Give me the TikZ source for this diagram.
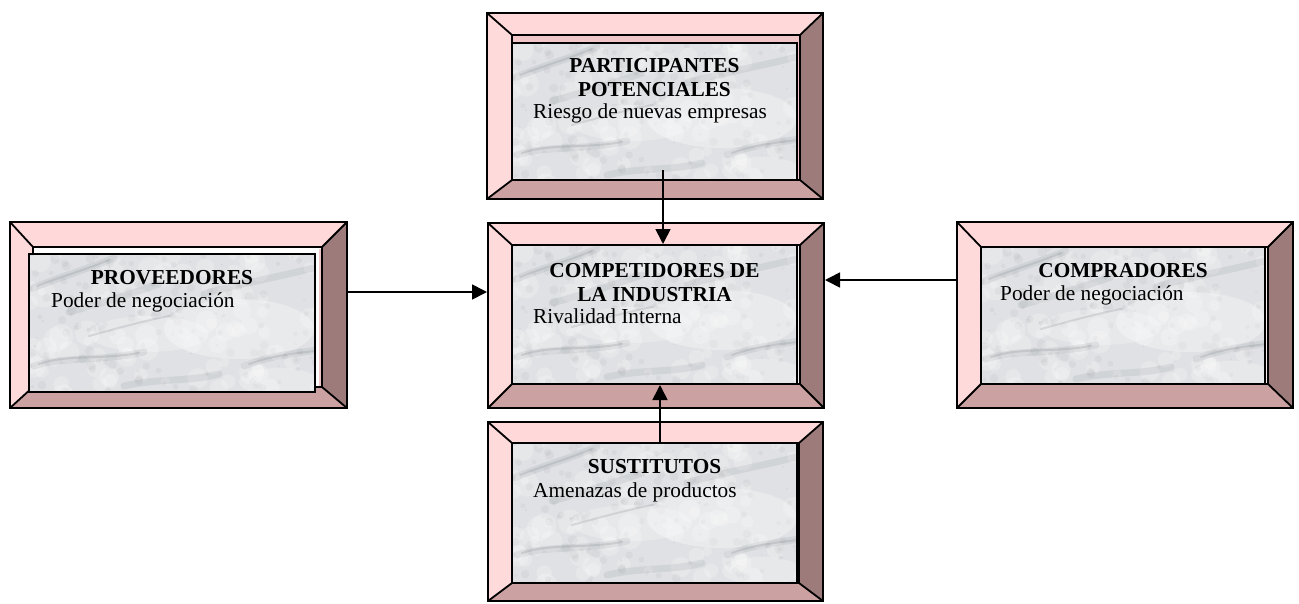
\documentclass[tikz,border=0pt]{standalone}
\usepackage{fontspec}
\setmainfont{Liberation Serif}
\usetikzlibrary{arrows.meta,fit}

\definecolor{bevtop}{HTML}{FFD9D9}
\definecolor{bevleft}{HTML}{FFDADA}
\definecolor{bevbot}{HTML}{CCA1A1}
\definecolor{bevright}{HTML}{9E7B7B}
\definecolor{marblebase}{HTML}{DFE1E4}
\definecolor{veincol}{HTML}{5F646B}
\definecolor{gapwhite}{HTML}{F7EFEF}
\definecolor{gappink}{HTML}{F0C6C8}

\tikzset{
  x=1pt, y=-1pt,
  edge/.style={line width=1.8pt, line join=miter},
  frame/.style={draw=black, line width=2pt, inner sep=0pt},
  vein/.style={veincol, line width=7pt, line cap=round, opacity=0.10},
  thinvein/.style={veincol, line width=2pt, line cap=round, opacity=0.16},
  marble/.style={draw=black, line width=2pt, inner sep=0pt},
  title/.style={font=\fontsize{21.3}{23.5}\selectfont\bfseries, anchor=base, inner sep=0pt},
  sub/.style={font=\fontsize{21.3}{23.5}\selectfont, anchor=base west, inner sep=0pt},
  arr/.style={line width=1.7pt, -{Triangle[length=15pt,width=15pt]}}
}

% mottled stone, drawn in px offsets from the top left corner
\newcommand\marbletexture{%
  \fill[marblebase] (-5,-5) rectangle (300,150);
  \pgfmathsetseed{11}%
  \foreach \k in {1,...,90}{%
    \fill[white, opacity=0.22] ({290*rnd},{145*rnd}) circle ({4+9*rnd});}
  \foreach \k in {1,...,160}{%
    \fill[veincol, opacity=0.06] ({290*rnd},{145*rnd}) circle ({1+4*rnd});}
  \fill[white, opacity=0.30] (210,75) ellipse (75 and 30);
  \fill[white, opacity=0.25] (120,80) ellipse (60 and 18);
  \fill[white, opacity=0.25] (250,128) ellipse (40 and 14);
  \draw[vein] (2,35) .. controls (25,25) and (50,18) .. (85,4);
  \draw[vein] (40,58) .. controls (70,50) and (95,42) .. (130,30);
  \draw[vein] (175,40) .. controls (200,32) and (235,26) .. (285,14);
  \draw[vein] (5,112) .. controls (35,102) and (70,108) .. (115,98);
  \draw[vein] (215,112) .. controls (240,102) and (262,100) .. (288,96);
  \draw[vein] (95,132) .. controls (130,124) and (160,128) .. (190,120);
  \draw[thinvein] (10,110) .. controls (40,100) and (70,106) .. (110,99);
  \draw[thinvein] (220,110) .. controls (242,102) and (262,100) .. (285,97);
  \draw[thinvein] (8,32) .. controls (28,24) and (50,18) .. (80,6);
  \draw[thinvein] (60,82) .. controls (90,74) and (110,68) .. (140,62);
}

% stone panel clipped to a rectangle, then outlined as a named node
\newcommand\marblepanel[5]{%
  \begin{scope}
    \clip (#2,#3) rectangle (#4,#5);
    \begin{scope}[shift={(#2,#3)}]\marbletexture\end{scope}
  \end{scope}
  \node[marble, fit={(#2,#3) (#4,#5)}] (#1) {};
}

% bevelled picture frame: name, outer x1 y1 x2 y2, inner x1 y1 x2 y2
\newcommand\bevelframe[9]{%
  \fill[bevtop] (#2,#3) -- (#4,#3) -- (#8,#7) -- (#6,#7) -- cycle;
  \fill[bevleft] (#2,#3) -- (#6,#7) -- (#6,#9) -- (#2,#5) -- cycle;
  \fill[bevbot] (#2,#5) -- (#6,#9) -- (#8,#9) -- (#4,#5) -- cycle;
  \fill[bevright] (#4,#3) -- (#4,#5) -- (#8,#9) -- (#8,#7) -- cycle;
  \draw[edge] (#2,#3) -- (#6,#7) (#4,#3) -- (#8,#7)
              (#2,#5) -- (#6,#9) (#4,#5) -- (#8,#9);
  \node[frame, fit={(#2,#3) (#4,#5)}] (#1) {};
  \node[frame, fill=\gapcolor, fit={(#6,#7) (#8,#9)}] (#1in) {};
}

\begin{document}
\begin{tikzpicture}
\useasboundingbox (0,0) rectangle (1299,603);

% participantes potenciales (top)
\def\gapcolor{gappink}
\bevelframe{P}{487}{13}{823}{199}{512}{35}{800}{180}
\marblepanel{Pm}{512}{43}{797}{180}
\node[title] (Pt1) at (654.5,72) {PARTICIPANTES};
\node[title] (Pt2) at (654.5,96) {POTENCIALES};
\node[sub] (Ps) at (533,118) {Riesgo de nuevas empresas};

% competidores de la industria (centre)
\def\gapcolor{gapwhite}
\bevelframe{C}{488}{223}{824}{408}{512}{245}{800}{384}
\marblepanel{Cm}{512}{245}{797}{384}
\node[title] (Ct1) at (654.5,277) {COMPETIDORES DE};
\node[title] (Ct2) at (654.5,301) {LA INDUSTRIA};
\node[sub] (Cs) at (533,323) {Rivalidad Interna};

% sustitutos (bottom)
\bevelframe{S}{488}{422}{823}{601}{512}{443}{799}{583}
\marblepanel{Sm}{512}{443}{797}{583}
\node[title] (St) at (654.5,473) {SUSTITUTOS};
\node[sub] (Ss) at (533,497) {Amenazas de productos};

% proveedores (left), picture slightly offset inside its frame
\def\gapcolor{white}
\bevelframe{L}{10}{222}{347}{408}{33}{247}{322}{387}
\fill[gappink] (318.5,249) rectangle (321,386);
\marblepanel{Lm}{29}{254}{315}{392}
\node[title] (Lt) at (172,284) {PROVEEDORES};
\node[sub] (Ls) at (51,307) {Poder de negociación};

% compradores (right)
\def\gapcolor{gapwhite}
\bevelframe{R}{957}{222}{1293}{408}{981}{247}{1268}{384}
\marblepanel{Rm}{981}{247}{1265}{384}
\node[title] (Rt) at (1123,277) {COMPRADORES};
\node[sub] (Rs) at (1000,300) {Poder de negociación};

% forces acting on the industry
\coordinate (Lsrc) at (L.east |- 0,292);
\coordinate (Rsrc) at (R.west |- 0,280);
\coordinate (Psrc) at (663,170);
\coordinate (Ssrc) at (660,0 |- Sin.north);
\draw[arr] (Lsrc) -- (Lsrc -| C.west);
\draw[arr] (Rsrc) -- (Rsrc -| C.east);
\draw[arr] (Psrc) -- (Psrc |- Cin.north);
\draw[arr] (Ssrc) -- (Ssrc |- Cin.south);
\end{tikzpicture}
\end{document}
